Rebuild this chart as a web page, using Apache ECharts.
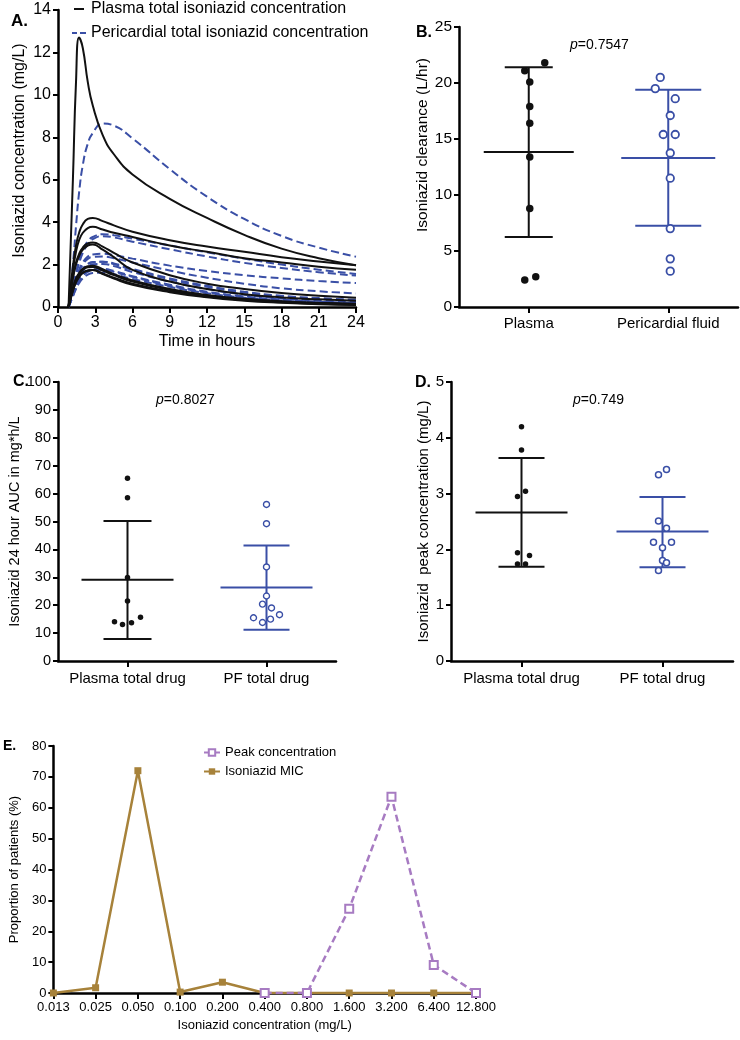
<!DOCTYPE html>
<html><head><meta charset="utf-8">
<script src="https://cdn.jsdelivr.net/npm/echarts@6/dist/echarts.min.js"></script>
<style>html,body{margin:0;padding:0;background:#fff}#c{width:740px;height:1040px}</style>
</head><body><div id="c"></div>
<script>
// ---------------- Panel A: concentration-time curves ----------------
const aTimes = [0.85, 1.2, 1.45, 1.7, 2.0, 2.4, 2.8, 3.6, 4.5, 6, 9, 12, 15, 18, 21, 24];
const aXTicks = [0, 24, 3];
const aPlasma1 = [0, 6.0, 10.6, 12.7, 12.2, 10.6, 9.5, 8.1, 7.2, 6.25, 5.1, 4.2, 3.4, 2.75, 2.3, 1.97];
const aPlasma2 = [0, 1.9, 2.9, 3.5, 3.9, 4.15, 4.2, 4.05, 3.85, 3.55, 3.15, 2.85, 2.6, 2.35, 2.15, 1.97];
const aPlasma3 = [0, 1.7, 2.6, 3.15, 3.5, 3.72, 3.78, 3.65, 3.5, 3.3, 2.9, 2.6, 2.3, 2.1, 1.9, 1.76];
const aPlasma4 = [0, 1.4, 2.1, 2.5, 2.8, 3.0, 3.04, 2.85, 2.55, 2.1, 1.5, 1.1, 0.85, 0.66, 0.53, 0.44];
const aPlasma5 = [0, 1.35, 2.0, 2.4, 2.7, 2.9, 2.95, 2.7, 2.35, 1.75, 1.2, 0.85, 0.6, 0.45, 0.36, 0.3];
const aPlasma6 = [0, 0.9, 1.35, 1.6, 1.8, 1.92, 1.94, 1.78, 1.55, 1.25, 0.85, 0.57, 0.39, 0.27, 0.2, 0.15];
const aPlasma7 = [0, 0.85, 1.3, 1.55, 1.75, 1.87, 1.89, 1.72, 1.5, 1.2, 0.8, 0.53, 0.36, 0.25, 0.18, 0.13];
const aPlasma8 = [0, 0.8, 1.2, 1.45, 1.62, 1.72, 1.74, 1.58, 1.38, 1.1, 0.74, 0.5, 0.33, 0.22, 0.15, 0.11];
const aPlasma9 = [0, 0.75, 1.15, 1.4, 1.6, 1.71, 1.74, 1.55, 1.34, 1.05, 0.7, 0.46, 0.3, 0.2, 0.13, 0.09];
const aPF1 = [0, 2.0, 3.8, 5.4, 6.7, 7.7, 8.2, 8.65, 8.55, 7.95, 6.5, 5.2, 4.15, 3.35, 2.8, 2.37];
const aPF2 = [0, 0.9, 1.6, 2.2, 2.7, 3.1, 3.3, 3.43, 3.38, 3.22, 2.9, 2.58, 2.28, 2.0, 1.76, 1.56];
const aPF3 = [0, 0.85, 1.5, 2.05, 2.55, 2.95, 3.2, 3.34, 3.28, 3.08, 2.72, 2.38, 2.08, 1.84, 1.64, 1.48];
const aPF4 = [0, 0.75, 1.3, 1.75, 2.1, 2.38, 2.48, 2.51, 2.45, 2.28, 1.95, 1.7, 1.5, 1.35, 1.22, 1.13];
const aPF5 = [0, 0.7, 1.25, 1.65, 2.0, 2.27, 2.36, 2.38, 2.3, 2.1, 1.72, 1.38, 1.1, 0.88, 0.74, 0.64];
const aPF6 = [0, 0.65, 1.15, 1.5, 1.8, 2.03, 2.12, 2.13, 2.05, 1.8, 1.35, 1.0, 0.72, 0.53, 0.42, 0.34];
const aPF7 = [0, 0.62, 1.1, 1.48, 1.78, 2.02, 2.11, 2.13, 2.02, 1.75, 1.3, 0.95, 0.68, 0.5, 0.38, 0.3];
const aPF8 = [0, 0.6, 1.05, 1.4, 1.7, 1.93, 2.01, 2.03, 1.93, 1.65, 1.2, 0.85, 0.58, 0.4, 0.3, 0.23];
const aPF9 = [0, 0.55, 0.95, 1.25, 1.5, 1.7, 1.78, 1.8, 1.7, 1.45, 1.05, 0.72, 0.5, 0.35, 0.25, 0.19];
const aPF10 = [0, 0.52, 0.92, 1.22, 1.47, 1.66, 1.74, 1.76, 1.66, 1.42, 1.0, 0.68, 0.46, 0.32, 0.23, 0.17];
const aPF11 = [0, 0.5, 0.85, 1.12, 1.35, 1.53, 1.6, 1.62, 1.54, 1.32, 0.95, 0.65, 0.44, 0.3, 0.21, 0.15];

// ---------------- Panel B: clearance ----------------
const bCats = ['Plasma', 'Pericardial fluid'];
const bPlasma = [21.8, 21.1, 20.1, 17.9, 16.4, 13.4, 8.8, 2.7, 2.4];
const bPF = [20.5, 19.5, 18.6, 17.1, 15.4, 15.4, 13.75, 11.5, 7.0, 4.3, 3.2];
const bPlasmaStats = [13.85, 6.25, 21.4];   // mean, lower, upper
const bPFStats = [13.3, 7.25, 19.4];
const bP = '=0.7547';

// ---------------- Panel C: AUC ----------------
const cdCats = ['Plasma total drug', 'PF total drug'];
const cPlasma = [65.5, 58.5, 29.9, 21.5, 14.1, 13.1, 13.7, 15.7];
const cPF = [56.1, 49.2, 33.7, 23.3, 20.4, 19.0, 15.5, 13.8, 15.0, 16.6];
const cPlasmaStats = [29.1, 7.9, 50.2];
const cPFStats = [26.3, 11.2, 41.4];
const cP = '=0.8027';

// ---------------- Panel D: peak ----------------
const dPlasma = [4.2, 3.78, 2.95, 3.04, 1.94, 1.89, 1.74, 1.74];
const dPF = [3.34, 3.43, 2.51, 2.38, 2.13, 2.13, 2.03, 1.8, 1.76, 1.62];
const dPlasmaStats = [2.66, 1.69, 3.64];
const dPFStats = [2.32, 1.68, 2.94];
const dP = '=0.749';

// ---------------- Panel E: distributions ----------------
const eCats = ['0.013', '0.025', '0.050', '0.100', '0.200', '0.400', '0.800', '1.600', '3.200', '6.400', '12.800'];
const ePeak = [null, null, null, null, null, 0, 0, 27.3, 63.6, 9.1, 0];
const eMIC = [0, 1.7, 72, 0.3, 3.5, 0, 0, 0, 0, 0, 0];

// ---------------- layout / style (not data) ----------------
const FONT = '"Liberation Sans", Arial, Helvetica, sans-serif';
const BLACK = '#111111';
const BLUE = '#3A4FA6';
const BROWN = '#A7823A';
const PURPLE = '#A77BC2';
const NAME_PL = 'Plasma total isoniazid concentration';
const NAME_PF = 'Pericardial total isoniazid concentration';

// jitter of dots (pixels), purely visual placement
const bPlasmaJit = [16, -4, 1, 1, 1, 1, 1, 7, -4];
const bPFJit = [-8, -13, 7, 2, -5, 7, 2, 2, 2, 2, 2];
const cPlasmaJit = [0, 0, 0, 0, -13, -5, 4, 13];
const cPFJit = [0, 0, 0, 0, -4, 5, -13, -4, 4, 13];
const dPlasmaJit = [0, 0, -4, 4, -4, 8, -4, 4];
const dPFJit = [-4, 4, -4, 4, -9, 9, 0, 0, 4, -4];

function axisBase(fs) {
  return {
    axisLine: { show: true, onZero: false, lineStyle: { color: '#000', width: 2.5 } },
    axisTick: { show: true, length: 5, lineStyle: { color: '#000', width: 2 } },
    axisLabel: { color: '#000', fontSize: fs, fontFamily: FONT },
    splitLine: { show: false },
    nameTextStyle: { color: '#000', fontSize: fs, fontFamily: FONT }
  };
}
function valY(grid, min, max, interval, name, fs, gap, pad, nfs) {
  const a = axisBase(fs);
  return Object.assign(a, {
    type: 'value', gridIndex: grid, min: min, max: max, interval: interval,
    name: name, nameLocation: 'middle', nameGap: gap, nameRotate: 90,
    axisLabel: Object.assign(a.axisLabel, { margin: 7 }),
    nameTextStyle: Object.assign(a.nameTextStyle, { padding: pad || 0, fontSize: nfs || fs })
  });
}
function catX(grid, cats, fs, margin) {
  const a = axisBase(fs);
  a.axisTick = { show: true, alignWithLabel: true, length: 6, lineStyle: { color: '#000', width: 2 } };
  return Object.assign(a, {
    type: 'category', gridIndex: grid, data: cats,
    axisLabel: Object.assign(a.axisLabel, { margin: margin, interval: 0 })
  });
}

function errSeries(axisIdx, cat, stats, color, capHalf, meanHalf) {
  return {
    type: 'custom', xAxisIndex: axisIdx, yAxisIndex: axisIdx, z: 3,
    data: [[cat, stats[0], stats[1], stats[2]]],
    renderItem: function (params, api) {
      const x = api.value(0);
      const pm = api.coord([x, api.value(1)]);
      const pl = api.coord([x, api.value(2)]);
      const ph = api.coord([x, api.value(3)]);
      const st = { stroke: color, lineWidth: 2, fill: null };
      return { type: 'group', children: [
        { type: 'line', shape: { x1: pl[0], y1: pl[1], x2: ph[0], y2: ph[1] }, style: st },
        { type: 'line', shape: { x1: pl[0] - capHalf, y1: pl[1], x2: pl[0] + capHalf, y2: pl[1] }, style: st },
        { type: 'line', shape: { x1: ph[0] - capHalf, y1: ph[1], x2: ph[0] + capHalf, y2: ph[1] }, style: st },
        { type: 'line', shape: { x1: pm[0] - meanHalf, y1: pm[1], x2: pm[0] + meanHalf, y2: pm[1] }, style: st }
      ]};
    }
  };
}
function dotSeries(axisIdx, cat, vals, jit, filled, size, bw) {
  return {
    type: 'scatter', xAxisIndex: axisIdx, yAxisIndex: axisIdx, z: 4,
    symbol: 'circle', symbolSize: size,
    itemStyle: filled ? { color: BLACK, opacity: 1 } : { color: '#fff', borderColor: BLUE, borderWidth: bw, opacity: 1 },
    data: vals.map((v, i) => ({ value: [cat, v], symbolOffset: [jit[i], 0] }))
  };
}

const series = [];
[aPF1, aPF2, aPF3, aPF4, aPF5, aPF6, aPF7, aPF8, aPF9, aPF10, aPF11].forEach(vals => {
  series.push({
    type: 'line', name: NAME_PF, xAxisIndex: 0, yAxisIndex: 0,
    data: aTimes.map((t, i) => [t, vals[i]]),
    smooth: 0.5, symbol: 'none', showSymbol: false, z: 2,
    lineStyle: { color: BLUE, width: 2, type: [8, 4] }, itemStyle: { color: BLUE }
  });
});
[aPlasma1, aPlasma2, aPlasma3, aPlasma4, aPlasma5, aPlasma6, aPlasma7, aPlasma8, aPlasma9].forEach(vals => {
  series.push({
    type: 'line', name: NAME_PL, xAxisIndex: 0, yAxisIndex: 0,
    data: aTimes.map((t, i) => [t, vals[i]]),
    smooth: 0.5, symbol: 'none', showSymbol: false, z: 3,
    lineStyle: { color: BLACK, width: 2 }, itemStyle: { color: BLACK }
  });
});
// B
series.push(errSeries(1, 0, bPlasmaStats, BLACK, 24, 45));
series.push(errSeries(1, 1, bPFStats, BLUE, 33, 47));
series.push(dotSeries(1, 0, bPlasma, bPlasmaJit, true, 7.5));
series.push(dotSeries(1, 1, bPF, bPFJit, false, 7.5, 1.8));
// C
series.push(errSeries(2, 0, cPlasmaStats, BLACK, 24, 46));
series.push(errSeries(2, 1, cPFStats, BLUE, 23, 46));
series.push(dotSeries(2, 0, cPlasma, cPlasmaJit, true, 5.5));
series.push(dotSeries(2, 1, cPF, cPFJit, false, 6, 1.4));
// D
series.push(errSeries(3, 0, dPlasmaStats, BLACK, 23, 46));
series.push(errSeries(3, 1, dPFStats, BLUE, 23, 46));
series.push(dotSeries(3, 0, dPlasma, dPlasmaJit, true, 5.5));
series.push(dotSeries(3, 1, dPF, dPFJit, false, 6, 1.5));
// E
series.push({
  type: 'line', name: 'Isoniazid MIC', xAxisIndex: 4, yAxisIndex: 4, data: eMIC, z: 3,
  symbol: 'rect', symbolSize: 7, lineStyle: { color: BROWN, width: 2.5 }, itemStyle: { color: BROWN }
});
series.push({
  type: 'line', name: 'Peak concentration', xAxisIndex: 4, yAxisIndex: 4, data: ePeak, z: 4,
  symbol: 'emptyRect', symbolSize: 8, lineStyle: { color: PURPLE, width: 2.5, type: [7, 4] },
  itemStyle: { color: PURPLE, borderColor: PURPLE, borderWidth: 1.5 }
});

const xA = Object.assign(axisBase(16), {
  type: 'value', gridIndex: 0, min: aXTicks[0], max: aXTicks[1], interval: aXTicks[2],
  name: 'Time in hours', nameLocation: 'middle', nameGap: 27
});
xA.axisTick.length = 6; xA.axisLabel.margin = 8;
const xE = catX(4, eCats, 13, 8);
xE.boundaryGap = false;
xE.name = 'Isoniazid concentration (mg/L)'; xE.nameLocation = 'middle'; xE.nameGap = 26;
xE.nameTextStyle = { color: '#000', fontSize: 13, fontFamily: FONT };

function ptext(x, y, rest) {
  return { type: 'text', x: x, y: y, z: 10, style: {
    text: '{i|p}' + rest, fontSize: 14, fontFamily: FONT, fill: '#000', verticalAlign: 'middle',
    rich: { i: { fontStyle: 'italic', fontSize: 14, fontFamily: FONT, fill: '#000' } } } };
}
function ltext(x, y, t, fs) {
  return { type: 'text', x: x, y: y, z: 10, style: { text: t, fontSize: fs, fontWeight: 'bold',
    fontFamily: FONT, fill: '#000', verticalAlign: 'middle' } };
}

const option = {
  backgroundColor: '#fff',
  animation: false,
  grid: [
    { left: 58, top: 10, width: 298, height: 297 },
    { left: 459, top: 27, width: 279, height: 280 },
    { left: 58, top: 382, width: 278, height: 279 },
    { left: 451, top: 382, width: 282, height: 279 },
    { left: 47, top: 746, width: 429, height: 247 }
  ],
  xAxis: [xA, catX(1, bCats, 15, 9), catX(2, cdCats, 15, 10), catX(3, cdCats, 15, 10), xE],
  yAxis: [
    valY(0, 0, 14, 2, 'Isoniazid concentration (mg/L)', 16, 30, [0, 0, 0, 16]),
    valY(1, 0, 25, 5, 'Isoniazid clearance (L/hr)', 15.5, 28, [0, 0, 0, 44]),
    valY(2, 0, 100, 10, 'Isoniazid 24 hour AUC in mg*h/L', 14.5, 31),
    valY(3, 0, 5, 1, 'Isoniazid  peak concentration (mg/L)', 15, 17),
    valY(4, 0, 80, 10, 'Proportion of patients (%)', 13, 31)
  ],
  legend: [
    { left: 67, top: -4, orient: 'vertical', itemWidth: 14, itemHeight: 2, itemGap: 8,
      data: [
        { name: NAME_PL, icon: 'path://M2,0h10v2h-10z' },
        { name: NAME_PF, icon: 'path://M0,0h5v2h-5zM8,0h6v2h-6z' }
      ],
      textStyle: { fontSize: 16, fontFamily: FONT, color: '#000' } },
    { left: 198, top: 741, orient: 'vertical', itemWidth: 16, itemHeight: 8, itemGap: 6,
      data: ['Peak concentration', 'Isoniazid MIC'], textStyle: { fontSize: 13, fontFamily: FONT, color: '#000' } }
  ],
  graphic: [
    ltext(11, 21, 'A.', 17),
    ltext(416, 33, 'B.', 16),
    ltext(13, 382, 'C.', 16),
    ltext(415, 383, 'D.', 16),
    ltext(3, 746, 'E.', 14),
    ptext(570, 45, bP),
    ptext(156, 400, cP),
    ptext(573, 400, dP)
  ],
  series: series
};

const chart = echarts.init(document.getElementById('c'), null, { renderer: 'canvas', width: 740, height: 1040 });
chart.setOption(option);
</script>
</body></html>
